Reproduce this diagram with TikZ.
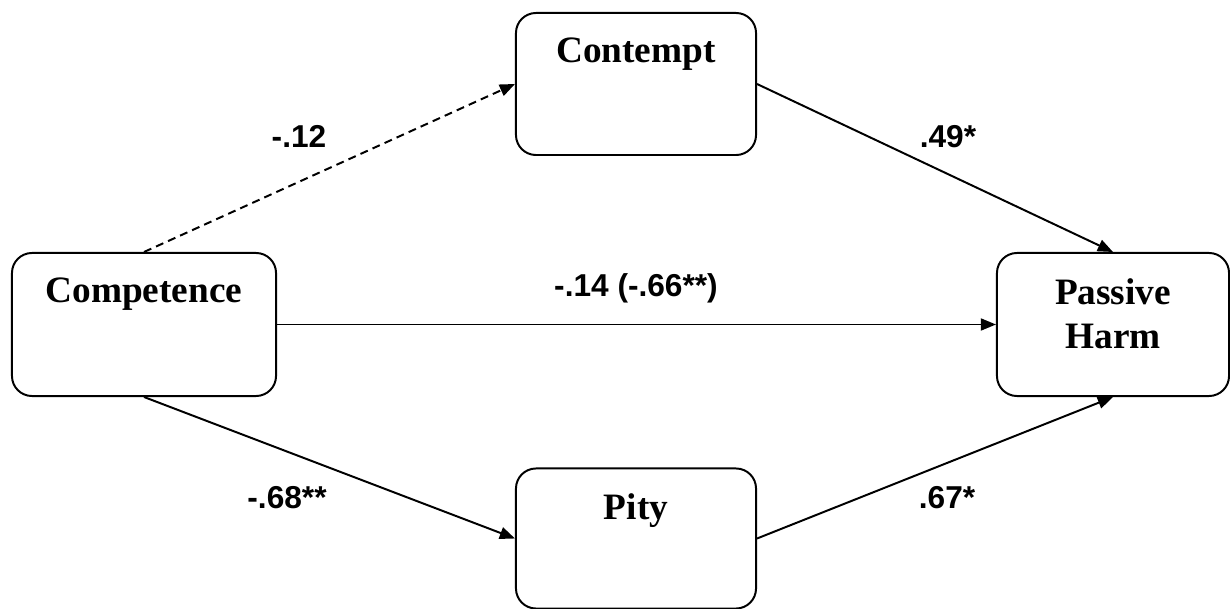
\documentclass[tikz,border=0pt]{standalone}
\usepackage{fontspec}
\setmainfont{Liberation Serif}
\setsansfont{Liberation Sans}
\usetikzlibrary{positioning}
\usetikzlibrary{arrows.meta}

\tikzset{
  varbox/.style={draw, line width=1.4pt, rounded corners=0.5cm, minimum height=3.575cm, inner sep=0pt},
  vartext/.style={anchor=north, inner sep=0pt, align=center, font=\bfseries\fontsize{26.5}{31.3}\selectfont},
  coef/.style={anchor=base, inner sep=0pt, font=\sffamily\bfseries\fontsize{22.5}{26}\selectfont},
  path/.style={line width=1.4pt, -{Triangle[length=0.38cm, width=0.3cm]}}
}

\begin{document}
\begin{tikzpicture}[x=0.025cm, y=-0.025cm]
    \useasboundingbox (0,0) rectangle (1230,609);
    % Boxes
    \node[varbox, minimum width=6.6cm] (comp) at (144,324.5) {};
    \node[varbox, minimum width=6cm, minimum height=3.55cm] (contempt) at (636,84) {};
    \node[varbox, minimum width=6cm, minimum height=3.5cm] (pity) at (636,538.5) {};
    \node[varbox, minimum width=5.8cm] (harm) at (1113,324.5) {};
    % Box titles
    \node[vartext] (comptext) at ([yshift=-0.65cm]comp.north) {Competence};
    \node[vartext] (contempttext) at ([yshift=-0.65cm]contempt.north) {Contempt};
    \node[vartext] (pitytext) at ([yshift=-0.65cm]pity.north) {Pity};
    \node[vartext] (harmtext) at ([yshift=-0.65cm]harm.north) {Passive\\Harm};
    % Paths
    \draw[path, dashed, dash pattern=on 0.2cm off 0.13cm] (comp.north) -- (contempt.west); % a path
    \draw[path] (contempt.east) -- (harm.north); % b path
    \draw[path] (comp.east) -- (harm.west); % c path
    \draw[path] (comp.south) -- (pity.west); % a path
    \draw[path] (pity.east) -- (harm.south); % b path
    % Coefficients
    \node[coef] (acontempt) at (299,148) {-.12};
    \node[coef] (bcontempt) at (948,148) {.49*};
    \node[coef] (cdirect) at (636,297) {-.14 (-.66**)};
    \node[coef] (apity) at (287,508) {-.68**};
    \node[coef] (bpity) at (947,508) {.67*};
\end{tikzpicture}
\end{document}
